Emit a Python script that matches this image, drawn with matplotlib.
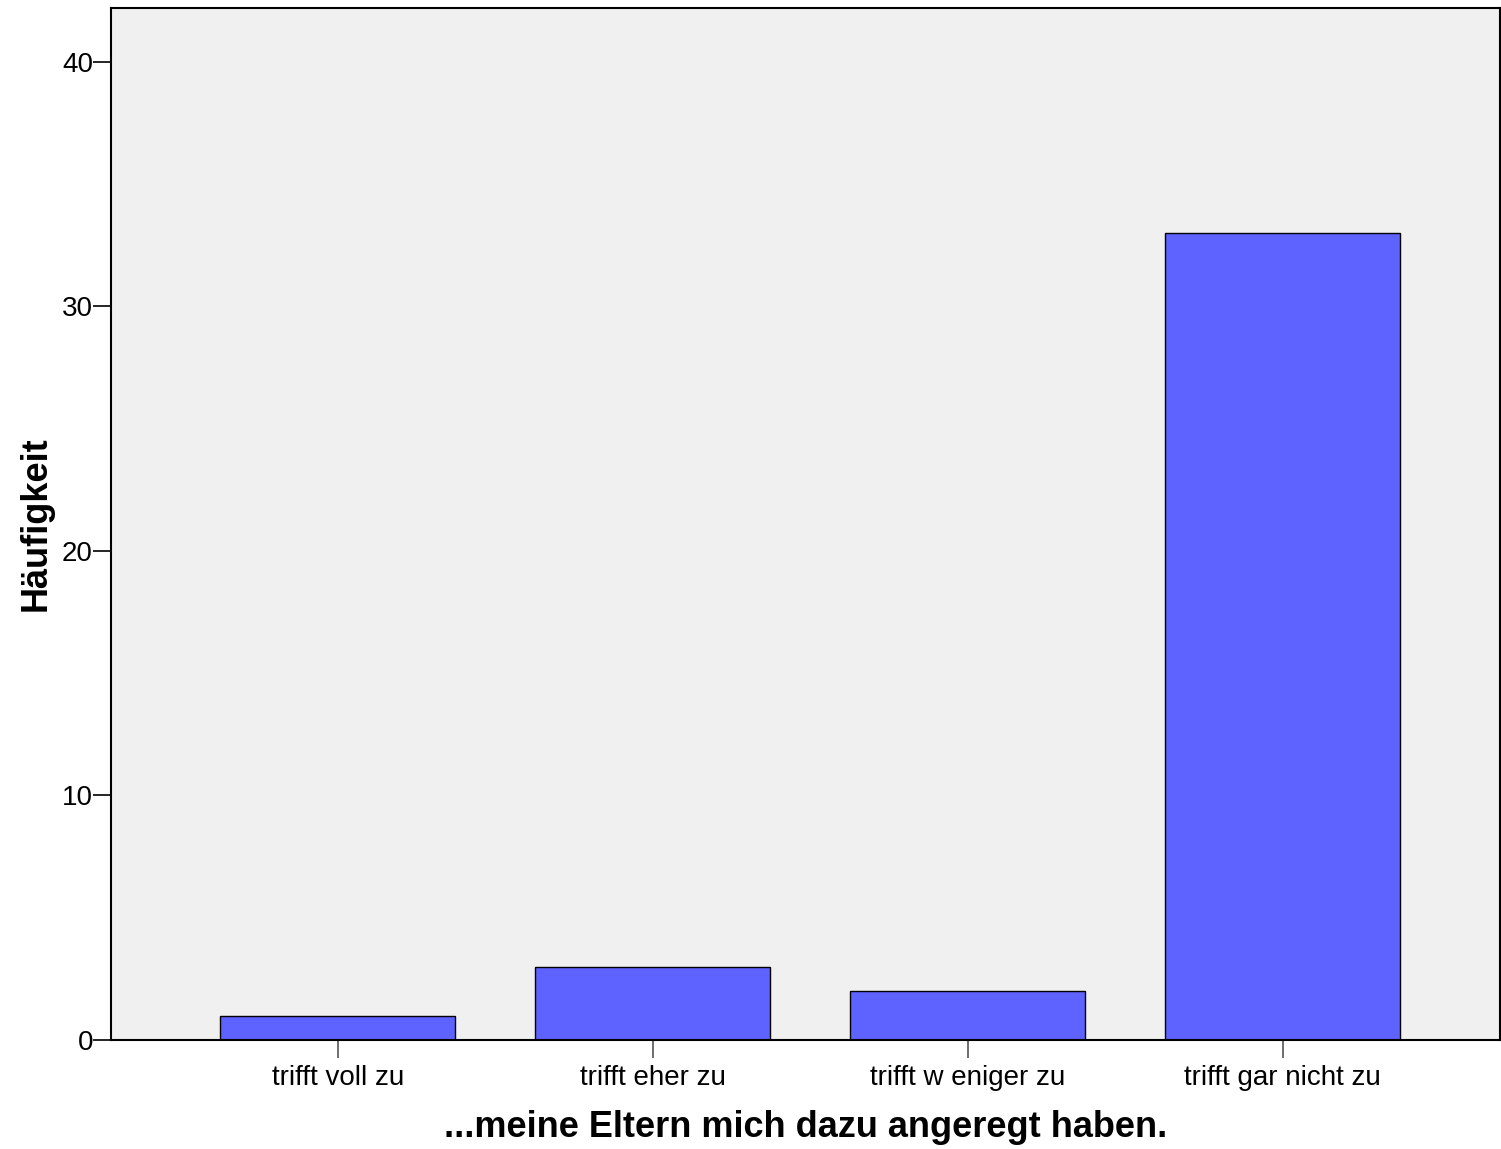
import matplotlib
matplotlib.use("Agg")
import matplotlib.pyplot as plt

categories = ["trifft voll zu", "trifft eher zu", "trifft w eniger zu", "trifft gar nicht zu"]
counts = [1, 3, 2, 33]
yticks = [0, 10, 20, 30, 40]

plt.rcParams['font.family'] = ['Liberation Sans', 'DejaVu Sans']

fig = plt.figure(figsize=(15.01, 11.49), dpi=100)
ax = fig.add_axes([111/1501, 1 - 1040/1149, (1500-111)/1501, (1040-8)/1149])
ax.set_facecolor('#f0f0f0')

x = list(range(len(categories)))
ax.bar(x, counts, width=0.746, color='#5e62ff', edgecolor='black', linewidth=1.0, zorder=2)

ax.set_xlim(-0.72, 3.69)
ax.set_ylim(0, 42.2)
ax.set_yticks(yticks)
ax.set_yticklabels([str(v) for v in yticks], fontsize=20)
ax.set_xticks(x)
ax.set_xticklabels(categories, fontsize=20)
ax.tick_params(axis='y', direction='out', length=13, width=1.2, pad=0, color='black')
ax.tick_params(axis='x', direction='out', length=13, width=1.2, pad=5, color='#555555')

for s in ax.spines.values():
    s.set_linewidth(1.5)
    s.set_color('black')

ax.set_ylabel("Häufigkeit", fontsize=26, fontweight='bold', labelpad=6)
ax.set_xlabel("...meine Eltern mich dazu angeregt haben.", fontsize=26, fontweight='bold', labelpad=14)

fig.savefig("out.png", dpi=100)
